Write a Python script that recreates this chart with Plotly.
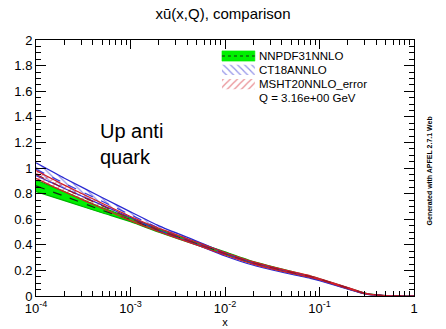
import plotly.graph_objects as go

# ---- data ----
x_vals = [1e-4, 2e-4, 5e-4, 1e-3, 2e-3, 5e-3, 1e-2, 2e-2, 5e-2, 8e-2, 0.1, 0.2, 0.3, 0.5, 0.7, 1.0]

nnpdf_central = [0.86, 0.78, 0.67, 0.595, 0.51, 0.41, 0.335, 0.26, 0.185, 0.15, 0.13, 0.06, 0.02, 0.002, 0.0003, 0.0]
nnpdf_err     = [0.045, 0.035, 0.020, 0.015, 0.012, 0.011, 0.010, 0.009, 0.007, 0.006, 0.005, 0.004, 0.002, 0.001, 0.0, 0.0]

ct18_central  = [0.99, 0.88, 0.74, 0.635, 0.53, 0.415, 0.325, 0.25, 0.178, 0.145, 0.125, 0.058, 0.019, 0.002, 0.0003, 0.0]
ct18_err      = [0.050, 0.040, 0.030, 0.022, 0.018, 0.014, 0.012, 0.010, 0.008, 0.007, 0.006, 0.005, 0.002, 0.001, 0.0, 0.0]

msht_central  = [0.95, 0.84, 0.705, 0.605, 0.515, 0.41, 0.33, 0.258, 0.185, 0.152, 0.132, 0.062, 0.021, 0.002, 0.0003, 0.0]
msht_err      = [0.030, 0.026, 0.020, 0.016, 0.013, 0.011, 0.010, 0.009, 0.007, 0.006, 0.005, 0.004, 0.002, 0.001, 0.0, 0.0]

series_names = ["NNPDF31NNLO", "CT18ANNLO", "MSHT20NNLO_error"]
q_label = "Q = 3.16e+00 GeV"

x_tickvals = [1e-4, 1e-3, 1e-2, 1e-1, 1]
x_ticktext = ["10<sup>-4</sup>", "10<sup>-3</sup>", "10<sup>-2</sup>", "10<sup>-1</sup>", "1"]
x_minor = [m * d for d in [1e-4, 1e-3, 1e-2, 1e-1] for m in range(2, 10)]
y_tickvals = [0, 0.2, 0.4, 0.6, 0.8, 1.0, 1.2, 1.4, 1.6, 1.8, 2.0]
y_ticktext = ["0", "0.2", "0.4", "0.6", "0.8", "1", "1.2", "1.4", "1.6", "1.8", "2"]

FONT = "Liberation Sans, Arial, sans-serif"

styles = [
    dict(fill="rgb(0,240,0)", line="rgb(0,180,0)", pattern=None, center="rgb(20,40,20)"),
    dict(fill=None, line="rgb(40,40,210)", pattern="\\", center="rgb(60,60,220)"),
    dict(fill=None, line="rgb(210,30,40)", pattern="/", center="rgb(150,20,40)"),
]

fig = go.Figure()


def fill_kw(st):
    if st["pattern"]:
        return dict(fillcolor="rgba(255,255,255,0)",
                    fillpattern=dict(shape=st["pattern"], fgcolor=st["line"],
                                     bgcolor="rgba(255,255,255,0)", size=5, solidity=0.25))
    return dict(fillcolor=st["fill"])


def band(name, central, err, st):
    up = [c + e for c, e in zip(central, err)]
    lo = [c - e for c, e in zip(central, err)]
    xs = x_vals + x_vals[::-1]
    ys = up + lo[::-1]
    fig.add_trace(go.Scatter(x=xs, y=ys, mode="lines", fill="toself", name=name,
                             line=dict(color=st["line"], width=1.2, shape="spline", smoothing=0.5),
                             showlegend=False, **fill_kw(st)))
    fig.add_trace(go.Scatter(x=x_vals, y=central, mode="lines", showlegend=False,
                             line=dict(color=st["center"], width=1.2, dash="dash",
                                       shape="spline", smoothing=0.5)))


band(series_names[0], nnpdf_central, nnpdf_err, styles[0])
band(series_names[1], ct18_central, ct18_err, styles[1])
band(series_names[2], msht_central, msht_err, styles[2])

# ---- hand-made legend (compact rows like the ROOT legend) ----
leg_x0, leg_x1, leg_text_x = 0.492, 0.579, 0.585
row_y = [0.9375, 0.883, 0.828]
half_h = 0.02
for name, st, yc in zip(series_names, styles, row_y):
    fig.add_trace(go.Scatter(x=[leg_x0, leg_x1, leg_x1, leg_x0, leg_x0],
                             y=[yc - half_h, yc - half_h, yc + half_h, yc + half_h, yc - half_h],
                             xaxis="x2", yaxis="y2", mode="lines", fill="toself",
                             line=dict(color=st["fill"] or "rgba(0,0,0,0)",
                                       width=0 if st["pattern"] else 0.6),
                             showlegend=False, hoverinfo="skip", **fill_kw(st)))
    if not st["pattern"]:
        fig.add_trace(go.Scatter(x=[leg_x0, leg_x1], y=[yc, yc], xaxis="x2", yaxis="y2",
                                 mode="lines", line=dict(color=st["center"], width=1, dash="dot"),
                                 showlegend=False, hoverinfo="skip"))
    fig.add_annotation(text=name, xref="paper", yref="paper", x=leg_text_x, y=yc,
                       xanchor="left", yanchor="middle", showarrow=False,
                       font=dict(family=FONT, size=11.5))
fig.add_annotation(text=q_label, xref="paper", yref="paper", x=leg_text_x, y=0.773,
                   xanchor="left", yanchor="middle", showarrow=False,
                   font=dict(family=FONT, size=11.5))

axis_common = dict(showline=True, linecolor="black", linewidth=1, mirror="ticks",
                   ticks="inside", tickcolor="black", showgrid=False, zeroline=False,
                   automargin=False,
                   tickfont=dict(family=FONT, size=13, color="black"))

fig.update_xaxes(type="log", range=[-4, 0], tickvals=x_tickvals, ticktext=x_ticktext, ticklen=9,
                 minor=dict(ticks="inside", ticklen=5, tickcolor="black", tickvals=x_minor,
                            showgrid=False),
                 title=dict(text="x", font=dict(family=FONT, size=11), standoff=0), **axis_common)
fig.update_yaxes(range=[0, 2], tickvals=y_tickvals, ticktext=y_ticktext, ticklen=10,
                 minor=dict(ticks="inside", ticklen=5, tickcolor="black", dtick=0.05, showgrid=False),
                 **axis_common)

fig.update_layout(
    width=446, height=329,
    margin=dict(l=36, r=32, t=40, b=33, autoexpand=False),
    paper_bgcolor="white", plot_bgcolor="white",
    font=dict(family=FONT, color="black"),
    title=dict(text="x\u016b(x,Q), comparison", x=0.5, xanchor="center", y=0.958, yanchor="middle",
               font=dict(family=FONT, size=15)),
    showlegend=False,
    xaxis2=dict(overlaying="x", range=[0, 1], visible=False, fixedrange=True),
    yaxis2=dict(overlaying="y", range=[0, 1], visible=False, fixedrange=True),
)

fig.add_annotation(text="Up anti<br>quark", xref="paper", yref="paper", x=0.165, y=0.595,
                   xanchor="left", yanchor="middle", showarrow=False, align="left",
                   font=dict(family=FONT, size=20))
fig.add_annotation(text="<b>Generated with APFEL 2.7.1 Web</b>", xref="paper", yref="paper",
                   x=1.042, y=0.49, xanchor="center", yanchor="middle", textangle=-90,
                   showarrow=False, font=dict(family=FONT, size=7))

fig.write_html("out.html", config={"displayModeBar": False},
               post_script="document.body.style.margin='0';document.body.style.overflow='hidden';")
